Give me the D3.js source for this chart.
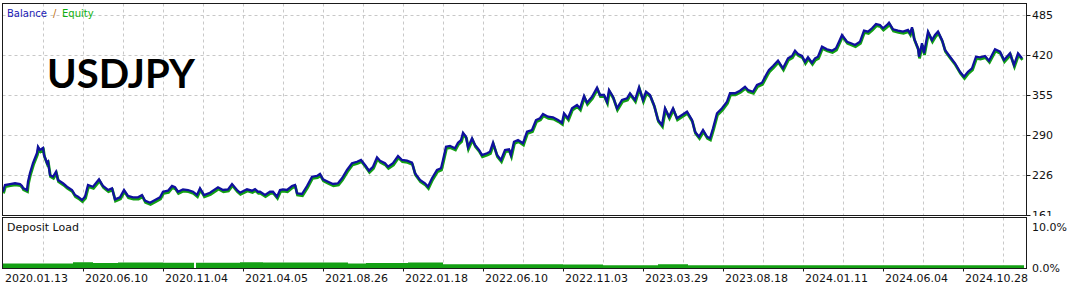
<!DOCTYPE html>
<html>
<head>
<meta charset="utf-8">
<script src="https://cdn.jsdelivr.net/npm/d3@7"></script>
<style>
  body { margin: 0; background: #fff; }
  svg { display: block; }
  text { font-family: "DejaVu Sans", sans-serif; font-size: 11px; fill: #111; }
</style>
</head>
<body>
<div id="chart"></div>
<script>
const WIDTH = 1075;
const HEIGHT = 284;

// deal number (x) and balance
const trades = [0,2,7,12,17,19,20,24,25,27,30,34,35,37,40,41,44,45,47,50,53,55,60,64,69,72,75,79,82,85,
  90,96,100,105,109,112,117,121,125,130,135,139,142,147,152,157,160,165,169,172,175,180,185,190,194,197,201,207,215,220,
  225,229,234,237,244,249,252,255,257,262,267,270,274,277,280,284,289,292,294,299,304,309,314,317,320,325,330,335,339,344,
  349,354,358,362,366,370,374,377,382,385,390,395,399,404,409,412,417,422,425,429,434,438,440,443,447,452,455,458,460,463,
  465,469,472,476,479,484,487,490,494,498,502,506,508,511,515,520,524,529,533,537,540,545,550,555,559,561,565,569,574,577,
  581,584,589,594,597,601,604,606,610,614,619,624,627,632,636,640,643,647,651,655,659,662,666,670,674,679,684,689,692,696,
  700,704,707,710,714,719,724,727,732,737,742,745,750,754,759,764,766,770,775,780,785,789,792,795,799,802,805,809,812,815,
  819,824,829,833,836,839,844,848,852,857,861,865,869,873,877,880,884,886,890,895,900,905,907,909,911,915,916,919,921,925,
  929,932,935,939,942,947,952,957,961,965,969,973,977,982,986,992,997,1001,1007,1011,1015,1019];

const balance = [198.7,209.6,211.2,212.4,211.2,208,204.7,201.5,215,229,245.2,261.4,271.6,266.3,269.5,258.2,245.2,247.3,225.8,223,
  231.1,217.7,212.4,206.8,201.5,193.4,190.6,185.3,190.6,209.6,
  206.8,218.8,208,201.5,204.3,186.4,189.7,201.5,191.8,189.7,189.7,193.4,184.2,180.9,185.3,189.7,198.7,200.4,208,205.9,
  198.7,202.6,201.5,198.7,193.4,204.3,193.4,197.1,205.9,201.5,
  202.6,211.2,201.5,197.1,202.6,200.4,203,198.7,198.7,193.4,198.7,198.7,190.6,201.5,202.6,201.5,208,209.6,196.2,195,
  208,223,224.2,227.4,218.8,215,211.2,212.4,220.5,233.9,
  244.8,247.3,250.1,242,232.8,239.2,254.5,249,244.8,239.2,244.8,256.6,250.1,249,245.7,228.6,217.7,212.4,206.8,220.5,
  233.9,236.7,250.1,271.6,272.8,269.1,278.1,282.5,294.3,287.8,
  270.7,285.3,274.4,266.3,258.2,261,263.5,278.1,258.2,250.1,266.3,267.4,258.2,279.7,282.5,277.2,295.9,298.7,314.9,317.7,
  324.6,320.2,319.3,314.9,310.5,325.8,317.7,333.9,339.2,333.9,
  353.8,342.9,352.6,367.2,355.4,355.4,344.5,363.5,352.6,333.9,347.3,350.1,358.2,347.3,367.9,347.3,360.7,355.4,339.2,314.9,
  306.8,333.9,320.2,333.9,317.7,323,328.3,314.9,295.9,287.8,
  298.7,287.8,285.3,301.5,325.8,333.9,344.5,358.2,358.2,362.4,368.8,363.5,360.7,371.6,375.3,390.6,395.9,402.4,411,398.7,
  414.9,418.6,427.2,421.8,418.6,409.3,416.5,407.7,414.9,417.4,
  433.6,429.4,427.2,431.1,441.7,452.6,441.7,439.2,436.4,441.7,459.6,458,463.5,470.4,468.8,463.5,468.8,472.5,461.8,459.6,
  458,460.7,455.4,465.1,447.3,431.1,417.4,439.2,423,458,
  444.5,452.6,458,444.5,428.3,417.4,406.8,393.1,385,393.1,398.7,417.4,416.5,418.6,411,429.4,425.5,412.1,423,404,
  423,414.9];

// deposit load, percent
const loadTrades = [0,70,90,115,160,191,193,237,260,297,345,363,405,440,560,600,655,685,1021];
const load = [1.1,1.4,1.2,1.35,1.3,0,1.3,1.4,1.35,1.35,1.1,1.2,1.35,0.9,0.85,0.7,0.9,0.7,0.7];

const dateTicks = [0,80,160,240,320,400,480,560,640,720,800,880,960];
const dateLabels = ["2020.01.13","2020.06.10","2020.11.04","2021.04.05","2021.08.26","2022.01.18","2022.06.10",
  "2022.11.03","2023.03.29","2023.08.18","2024.01.11","2024.06.04","2024.10.28"];
const gridTrades = d3.range(40, 1001, 40);

const yTicks = [161,225.8,290.6,355.4,420.2,485];
const yLabels = ["161","226","290","355","420","485"];
const loadTicks = [0,10];
const loadLabels = ["0.0%","10.0%"];

const PANEL = { LEFT: 2.5, RIGHT: 1026.5, TOP: 3.5, MAIN_BOTTOM: 215.5, SUB_TOP: 217.5, SUB_BOTTOM: 268.5 };

const svg = d3.select("#chart")
  .append("svg")
  .attr("width", WIDTH)
  .attr("height", HEIGHT);

svg.append("rect").attr("width", WIDTH).attr("height", HEIGHT).attr("fill", "#fff");

const x = d3.scaleLinear().domain([0, 1024]).range([3, 1027]);
const y = d3.scaleLinear().domain([161, 485]).range([215, 15]);
const yLoad = d3.scaleLinear().domain([0, 10]).range([268, 227]);

const grid = svg.append("g")
  .attr("stroke", "#c8c8c8")
  .attr("stroke-width", 1)
  .attr("stroke-dasharray", "3,3");

grid.selectAll(".vmain")
  .data(gridTrades)
  .enter()
  .append("line")
  .attr("x1", (d) => Math.round(x(d)) + 0.5)
  .attr("x2", (d) => Math.round(x(d)) + 0.5)
  .attr("y1", PANEL.TOP)
  .attr("y2", PANEL.MAIN_BOTTOM);

grid.selectAll(".vsub")
  .data(gridTrades)
  .enter()
  .append("line")
  .attr("x1", (d) => Math.round(x(d)) + 0.5)
  .attr("x2", (d) => Math.round(x(d)) + 0.5)
  .attr("y1", PANEL.SUB_TOP)
  .attr("y2", PANEL.SUB_BOTTOM);

grid.selectAll(".h")
  .data(yTicks.slice(1))
  .enter()
  .append("line")
  .attr("x1", PANEL.LEFT)
  .attr("x2", PANEL.RIGHT)
  .attr("y1", (d) => Math.round(y(d)) + 0.5)
  .attr("y2", (d) => Math.round(y(d)) + 0.5);

const points = trades.map((t, i) => [t, balance[i]]);
const line = d3.line()
  .x((d) => x(d[0]))
  .y((d) => y(d[1]));

// equity sits just under the balance curve
svg.append("path")
  .datum(points)
  .attr("d", line)
  .attr("fill", "none")
  .attr("stroke", "#12a012")
  .attr("stroke-width", 2.8)
  .attr("transform", "translate(0.5, 1.7)");

svg.append("path")
  .datum(points)
  .attr("d", line)
  .attr("fill", "none")
  .attr("stroke", "#10109e")
  .attr("stroke-width", 2.3);

const loadPoints = loadTrades.map((t, i) => [t, load[i]]);
svg.append("path")
  .datum(loadPoints)
  .attr("d", d3.area()
    .curve(d3.curveStepAfter)
    .x((d) => x(d[0]))
    .y0(yLoad(0))
    .y1((d) => yLoad(d[1])))
  .attr("fill", "#14a014");

// frames
const frames = svg.append("g").attr("fill", "none").attr("stroke", "#1a1a1a").attr("stroke-width", 1);
frames.append("rect")
  .attr("x", PANEL.LEFT).attr("y", PANEL.TOP)
  .attr("width", PANEL.RIGHT - PANEL.LEFT).attr("height", PANEL.MAIN_BOTTOM - PANEL.TOP);
frames.append("rect")
  .attr("x", PANEL.LEFT).attr("y", PANEL.SUB_TOP)
  .attr("width", PANEL.RIGHT - PANEL.LEFT).attr("height", PANEL.SUB_BOTTOM - PANEL.SUB_TOP);

// bottom date axis
frames.selectAll(".xt")
  .data(dateTicks.slice(1))
  .enter()
  .append("line")
  .attr("x1", (d) => Math.round(x(d)) + 0.5)
  .attr("x2", (d) => Math.round(x(d)) + 0.5)
  .attr("y1", PANEL.SUB_BOTTOM)
  .attr("y2", PANEL.SUB_BOTTOM + 3);

svg.selectAll(".xl")
  .data(dateTicks)
  .enter()
  .append("text")
  .attr("x", (d) => x(d) + 2)
  .attr("y", 282)
  .text((d, i) => dateLabels[i]);

// right value axis
svg.append("clipPath").attr("id", "mainClip")
  .append("rect").attr("x", 1000).attr("y", 0).attr("width", 75).attr("height", 216);

frames.selectAll(".yt")
  .data(yTicks)
  .enter()
  .append("line")
  .attr("x1", PANEL.RIGHT)
  .attr("x2", PANEL.RIGHT + 4)
  .attr("y1", (d) => Math.round(y(d)) + 0.5)
  .attr("y2", (d) => Math.round(y(d)) + 0.5);

svg.append("g")
  .attr("clip-path", "url(#mainClip)")
  .selectAll("text")
  .data(yTicks)
  .enter()
  .append("text")
  .attr("x", 1032)
  .attr("y", (d) => y(d) + 4)
  .text((d, i) => yLabels[i]);

svg.selectAll(".ll")
  .data(loadTicks)
  .enter()
  .append("text")
  .attr("x", 1032)
  .attr("y", (d) => yLoad(d) + 4)
  .text((d, i) => loadLabels[i]);

// titles
svg.append("text").attr("x", 7).attr("y", 17).style("font-size", "10px").style("fill", "#2020b4").text("Balance");
svg.append("text").attr("x", 53).attr("y", 17).style("font-size", "10px").style("fill", "#c07010").text("/");
svg.append("text").attr("x", 62).attr("y", 17).style("font-size", "10px").style("fill", "#10b010").text("Equity");
svg.append("text").attr("x", 7).attr("y", 231).text("Deposit Load");

svg.append("text")
  .attr("x", 47)
  .attr("y", 88)
  .style("font-family", "Lato, sans-serif")
  .style("font-weight", "bold")
  .style("font-size", "40px")
  .style("fill", "#000")
  .text("USDJPY");
</script>
</body>
</html>
